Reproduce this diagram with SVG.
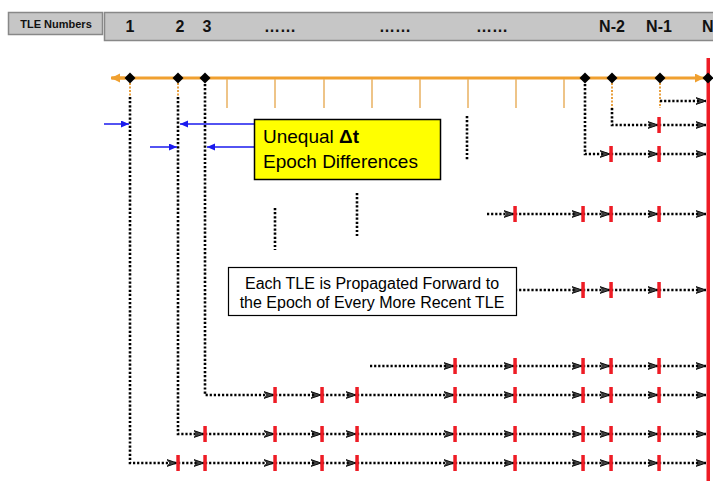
<svg xmlns="http://www.w3.org/2000/svg" width="713" height="481" viewBox="0 0 713 481">
<style>
.hdr{font-family:"Liberation Sans",Arial,sans-serif;font-weight:bold;fill:#111}
.dot{fill:none;stroke:#000;stroke-width:2.6;stroke-dasharray:2.2 1.9}
.seg{fill:none;stroke:#000;stroke-width:2.6;stroke-dasharray:2.2 1.9;marker-end:url(#ah)}
.odot{fill:none;stroke:#e8a040;stroke-width:2;stroke-dasharray:2 1.5}
.tick{stroke:#e8b060;stroke-width:1.5}
.red{fill:#ee1c25}
.blue{stroke:#1a1aee;stroke-width:1.5;fill:none;marker-end:url(#bh)}
.lbl{font-family:"Liberation Sans",Arial,sans-serif;fill:#000}
</style>
<defs>
<marker id="ah" markerUnits="userSpaceOnUse" markerWidth="12" markerHeight="10" refX="10" refY="4" orient="auto" viewBox="0 0 12 10">
<path d="M0,0.6 L10,4 L0,7.4 L3.2,4 Z" fill="#444" stroke="#000" stroke-width="0.9"/>
</marker>
<marker id="bh" markerUnits="userSpaceOnUse" markerWidth="10" markerHeight="8" refX="8" refY="3.5" orient="auto" viewBox="0 0 10 8">
<path d="M0,0 L8,3.5 L0,7 Z" fill="#1a1aee"/>
</marker>
<marker id="oh" markerUnits="userSpaceOnUse" markerWidth="12" markerHeight="10" refX="9" refY="4.5" orient="auto" viewBox="0 0 12 10">
<path d="M0,0 L9,4.5 L0,9 Z" fill="#f0a030"/>
</marker>
</defs>
<rect width="713" height="481" fill="#fff"/>

<g id="header">
<rect x="104.5" y="12.5" width="612" height="28" fill="#c6c6c6" stroke="#888" stroke-width="1.5"/>
<rect x="8.5" y="12.5" width="94" height="22" fill="#c6c6c6" stroke="#888" stroke-width="1.5"/>
<text class="hdr" x="56" y="27.5" font-size="11" text-anchor="middle">TLE Numbers</text>
<g font-size="16" text-anchor="middle">
<text class="hdr" x="130" y="32">1</text>
<text class="hdr" x="180" y="32">2</text>
<text class="hdr" x="207" y="32">3</text>
<text class="hdr" x="280" y="32">……</text>
<text class="hdr" x="395" y="32">……</text>
<text class="hdr" x="492" y="32">……</text>
<text class="hdr" x="612" y="32">N-2</text>
<text class="hdr" x="659" y="32">N-1</text>
<text class="hdr" x="708" y="32" text-anchor="start" dx="-6">N</text>
</g>
</g>

<g id="timeline">
<line x1="112" y1="78" x2="704" y2="78" stroke="#f0a030" stroke-width="3" marker-end="url(#oh)"/>
<line x1="125" y1="78" x2="111" y2="78" stroke="#f0a030" stroke-width="3" marker-end="url(#oh)"/>
<g class="tick">
<line x1="227" y1="79" x2="227" y2="108"/>
<line x1="275" y1="79" x2="275" y2="108"/>
<line x1="324" y1="79" x2="324" y2="108"/>
<line x1="372" y1="79" x2="372" y2="108"/>
<line x1="420" y1="79" x2="420" y2="108"/>
<line x1="468" y1="79" x2="468" y2="108"/>
<line x1="516" y1="79" x2="516" y2="108"/>
<line x1="564" y1="79" x2="564" y2="108"/>
</g>
<path class="odot" d="M130,83 V98 M178,83 V98 M612,83 V108 M660,83 V108"/>
</g>

<g id="connectors">
<!-- row 463 -->
<path class="seg" d="M130,97 V463 H177"/>
<path class="seg" d="M178,463 H204"/>
<path class="seg" d="M205,463 H274"/>
<path class="seg" d="M275,463 H321"/>
<path class="seg" d="M322,463 H356"/>
<path class="seg" d="M357,463 H454"/>
<path class="seg" d="M455,463 H514"/>
<path class="seg" d="M515,463 H582"/>
<path class="seg" d="M583,463 H610"/>
<path class="seg" d="M611,463 H658"/>
<path class="seg" d="M659,463 H706"/>
<!-- row 434 -->
<path class="seg" d="M178,97 V434 H204"/>
<path class="seg" d="M205,434 H274"/>
<path class="seg" d="M275,434 H321"/>
<path class="seg" d="M322,434 H356"/>
<path class="seg" d="M357,434 H454"/>
<path class="seg" d="M455,434 H514"/>
<path class="seg" d="M515,434 H582"/>
<path class="seg" d="M583,434 H610"/>
<path class="seg" d="M611,434 H658"/>
<path class="seg" d="M659,434 H706"/>
<!-- row 395 -->
<path class="seg" d="M205,84 V395 H274"/>
<path class="seg" d="M275,395 H321"/>
<path class="seg" d="M322,395 H356"/>
<path class="seg" d="M357,395 H454"/>
<path class="seg" d="M455,395 H514"/>
<path class="seg" d="M515,395 H582"/>
<path class="seg" d="M583,395 H610"/>
<path class="seg" d="M611,395 H658"/>
<path class="seg" d="M659,395 H706"/>
<!-- row 366 -->
<path class="seg" d="M370,366 H454"/>
<path class="seg" d="M455,366 H514"/>
<path class="seg" d="M515,366 H582"/>
<path class="seg" d="M583,366 H610"/>
<path class="seg" d="M611,366 H658"/>
<path class="seg" d="M659,366 H706"/>
<!-- row 290 -->
<path class="seg" d="M515,290 H582"/>
<path class="seg" d="M583,290 H610"/>
<path class="seg" d="M611,290 H658"/>
<path class="seg" d="M659,290 H706"/>
<!-- row 214 -->
<path class="seg" d="M487,214 H514"/>
<path class="seg" d="M515,214 H582"/>
<path class="seg" d="M583,214 H610"/>
<path class="seg" d="M611,214 H658"/>
<path class="seg" d="M659,214 H706"/>
<!-- row 154 -->
<path class="seg" d="M585,84 V154 H610"/>
<path class="seg" d="M611,154 H658"/>
<path class="seg" d="M659,154 H706"/>
<!-- row 125 -->
<path class="seg" d="M612,108 V125 H658"/>
<path class="seg" d="M659,125 H706"/>
<!-- row 101 -->
<path class="seg" d="M660,101 H706"/>
<!-- ellipsis verticals -->
<path class="dot" d="M467,116 V160 M275,208 V250 M357,193 V236"/>
<!-- blue arrows -->
<path class="blue" d="M104,124 H129"/>
<path class="blue" d="M254,124 H180"/>
<path class="blue" d="M150,147 H177"/>
<path class="blue" d="M254,147 H207"/>
</g>

<g id="epoch-marks" class="red">
<rect x="706.5" y="58" width="3.5" height="423"/>
<rect x="176.3" y="455" width="3.5" height="16"/>
<rect x="203.3" y="455" width="3.5" height="16"/>
<rect x="273.3" y="455" width="3.5" height="16"/>
<rect x="320.3" y="455" width="3.5" height="16"/>
<rect x="355.3" y="455" width="3.5" height="16"/>
<rect x="453.3" y="455" width="3.5" height="16"/>
<rect x="513.3" y="455" width="3.5" height="16"/>
<rect x="581.3" y="455" width="3.5" height="16"/>
<rect x="609.3" y="455" width="3.5" height="16"/>
<rect x="657.3" y="455" width="3.5" height="16"/>

<rect x="203.3" y="426" width="3.5" height="16"/>
<rect x="273.3" y="426" width="3.5" height="16"/>
<rect x="320.3" y="426" width="3.5" height="16"/>
<rect x="355.3" y="426" width="3.5" height="16"/>
<rect x="453.3" y="426" width="3.5" height="16"/>
<rect x="513.3" y="426" width="3.5" height="16"/>
<rect x="581.3" y="426" width="3.5" height="16"/>
<rect x="609.3" y="426" width="3.5" height="16"/>
<rect x="657.3" y="426" width="3.5" height="16"/>

<rect x="273.3" y="387" width="3.5" height="16"/>
<rect x="320.3" y="387" width="3.5" height="16"/>
<rect x="355.3" y="387" width="3.5" height="16"/>
<rect x="453.3" y="387" width="3.5" height="16"/>
<rect x="513.3" y="387" width="3.5" height="16"/>
<rect x="581.3" y="387" width="3.5" height="16"/>
<rect x="609.3" y="387" width="3.5" height="16"/>
<rect x="657.3" y="387" width="3.5" height="16"/>

<rect x="453.3" y="358" width="3.5" height="16"/>
<rect x="513.3" y="358" width="3.5" height="16"/>
<rect x="581.3" y="358" width="3.5" height="16"/>
<rect x="609.3" y="358" width="3.5" height="16"/>
<rect x="657.3" y="358" width="3.5" height="16"/>

<rect x="581.3" y="282" width="3.5" height="16"/>
<rect x="609.3" y="282" width="3.5" height="16"/>
<rect x="657.3" y="282" width="3.5" height="16"/>

<rect x="513.3" y="206" width="3.5" height="16"/>
<rect x="581.3" y="206" width="3.5" height="16"/>
<rect x="609.3" y="206" width="3.5" height="16"/>
<rect x="657.3" y="206" width="3.5" height="16"/>

<rect x="609.3" y="146" width="3.5" height="16"/>
<rect x="657.3" y="146" width="3.5" height="16"/>

<rect x="657.3" y="117" width="3.5" height="16"/>
</g>

<g id="epochs" fill="#000">
<path d="M130,72.5 L135.5,78 L130,83.5 L124.5,78 Z"/>
<path d="M178,72.5 L183.5,78 L178,83.5 L172.5,78 Z"/>
<path d="M205,72.5 L210.5,78 L205,83.5 L199.5,78 Z"/>
<path d="M585,72.5 L590.5,78 L585,83.5 L579.5,78 Z"/>
<path d="M612,72.5 L617.5,78 L612,83.5 L606.5,78 Z"/>
<path d="M660,72.5 L665.5,78 L660,83.5 L654.5,78 Z"/>
<path d="M708,72.5 L713.5,78 L708,83.5 L702.5,78 Z"/>
</g>

<g id="note-dt">
<rect x="254.5" y="119.5" width="186" height="60" fill="#ffff00" stroke="#000" stroke-width="1.5"/>
<text class="lbl" x="263" y="143" font-size="19">Unequal <tspan font-weight="bold">Δt</tspan></text>
<text class="lbl" x="263" y="168" font-size="19">Epoch Differences</text>
</g>

<g id="note-prop">
<rect x="228.5" y="267.5" width="288" height="48" fill="#fff" stroke="#000" stroke-width="1.2"/>
<text class="lbl" x="372" y="289" font-size="16" text-anchor="middle">Each TLE is Propagated Forward to</text>
<text class="lbl" x="372" y="308" font-size="16" text-anchor="middle">the Epoch of Every More Recent TLE</text>
</g>
</svg>
